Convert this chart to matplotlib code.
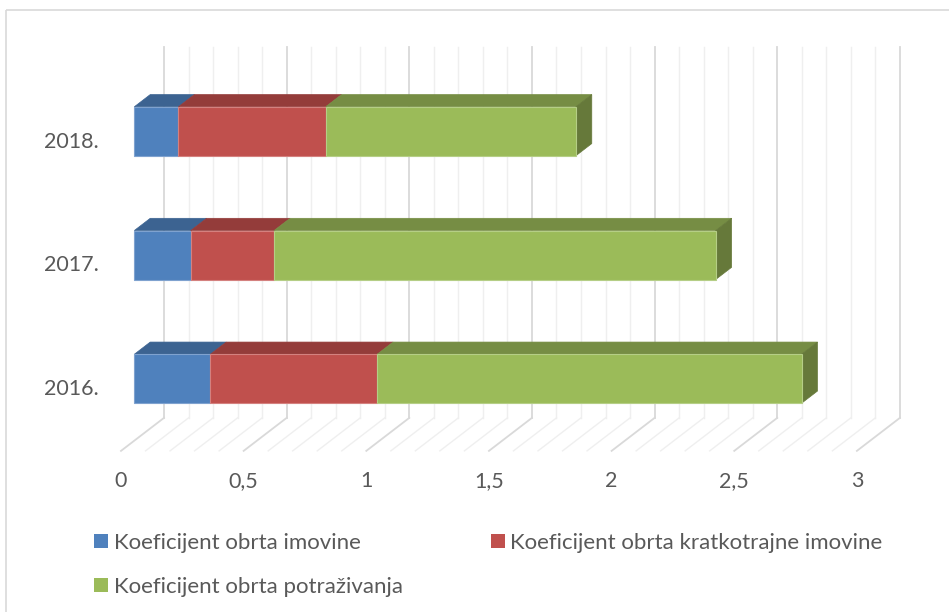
import numpy as np
import matplotlib
matplotlib.use('Agg')
import matplotlib.pyplot as plt
from matplotlib.patches import Polygon, Patch, Rectangle

plt.rcParams['font.family'] = ['Lato', 'DejaVu Sans']

# data
years = ['2016.', '2017.', '2018.']
series = ['Koeficijent obrta imovine',
          'Koeficijent obrta kratkotrajne imovine',
          'Koeficijent obrta potraživanja']
imovine = [0.31, 0.23, 0.18]
kratkotrajne = [0.68, 0.34, 0.60]
potrazivanja = [1.73, 1.80, 1.02]
values = [imovine, kratkotrajne, potrazivanja]
xticks = [0, 0.5, 1, 1.5, 2, 2.5, 3]
xticklabels = ['0', '0,5', '1', '1,5', '2', '2,5', '3']

front_cols = ['#4F81BD', '#C0504D', '#9BBB59']
top_cols = ['#3C6391', '#943C3A', '#768D44']
side_col = '#66793A'
edge_cols = ['#7FA2CF', '#D4817F', '#B5CE86']
text_col = '#595959'

# 3d look: oblique depth offset (full depth of the plot box)
DX = 43 / 245.3
DY = 33 / 123.75
f1, f2 = 0.31, 0.68       # bar depth range
half_h = 0.198            # half height of bar
floor_y, top_y = -0.5, 2.5

fig = plt.figure(figsize=(9.49, 6.12), dpi=100)
ax = fig.add_axes([0, 0, 1, 1])
ax.set_xlim(-121 / 245.3, (949 - 121) / 245.3)
ax.set_ylim((389 - 612) / 123.75, 389 / 123.75)
ax.axis('off')

# chart border
ax.add_patch(Rectangle((6 / 949, 1 - 10 / 612), 2, -2, transform=ax.transAxes,
                       fill=False, edgecolor='#D9D9D9', lw=1.2, clip_on=False))

# back wall and floor gridlines
for k in range(31):
    v = k / 10
    major = k % 5 == 0
    c = '#D9D9D9' if major else '#EFEFEF'
    lw = 1.3 if major else 1.0
    ax.plot([v + DX, v + DX], [floor_y + DY, top_y + DY], color=c, lw=lw, zorder=1)
    ax.plot([v + DX, v], [floor_y + DY, floor_y], color=c, lw=lw, zorder=1)

# bars
ox1, oy1 = f1 * DX, f1 * DY
ox2, oy2 = f2 * DX, f2 * DY
for i in range(len(years)):
    left = 0
    for s in range(len(series)):
        w = values[s][i]
        right = left + w
        yb, yt = i - half_h, i + half_h
        front = [(left + ox1, yb + oy1), (right + ox1, yb + oy1),
                 (right + ox1, yt + oy1), (left + ox1, yt + oy1)]
        top = [(left + ox1, yt + oy1), (right + ox1, yt + oy1),
               (right + ox2, yt + oy2), (left + ox2, yt + oy2)]
        ax.add_patch(Polygon(top, closed=True, facecolor=top_cols[s],
                             edgecolor=top_cols[s], lw=0.5, zorder=3))
        ax.add_patch(Polygon(front, closed=True, facecolor=front_cols[s],
                             edgecolor=edge_cols[s], lw=0.8, zorder=4))
        if s == len(series) - 1:
            side = [(right + ox1, yb + oy1), (right + ox2, yb + oy2),
                    (right + ox2, yt + oy2), (right + ox1, yt + oy1)]
            ax.add_patch(Polygon(side, closed=True, facecolor=side_col,
                                 edgecolor=side_col, lw=0.5, zorder=3))
        left = right

# axis labels
for v, lab in zip(xticks, xticklabels):
    ax.text(v, -0.743, lab, ha='center', va='center', fontsize=15.5, color=text_col)
for i, lab in enumerate(years):
    ax.text(-0.09, i, lab, ha='right', va='center', fontsize=15.5, color=text_col)

# legend (row-wise order like Excel)
handles = [Patch(facecolor=front_cols[k], edgecolor='none', label=series[k]) for k in (0, 2, 1)]
fig.legend(handles=handles, ncol=2, loc='upper left', bbox_to_anchor=(74 / 949, 1 - 513 / 612),
           frameon=False, fontsize=16, labelcolor=text_col, handlelength=0.63,
           handleheight=0.63, handletextpad=0.25, columnspacing=3.97, labelspacing=1.07)

fig.savefig('out.png', dpi=100)
